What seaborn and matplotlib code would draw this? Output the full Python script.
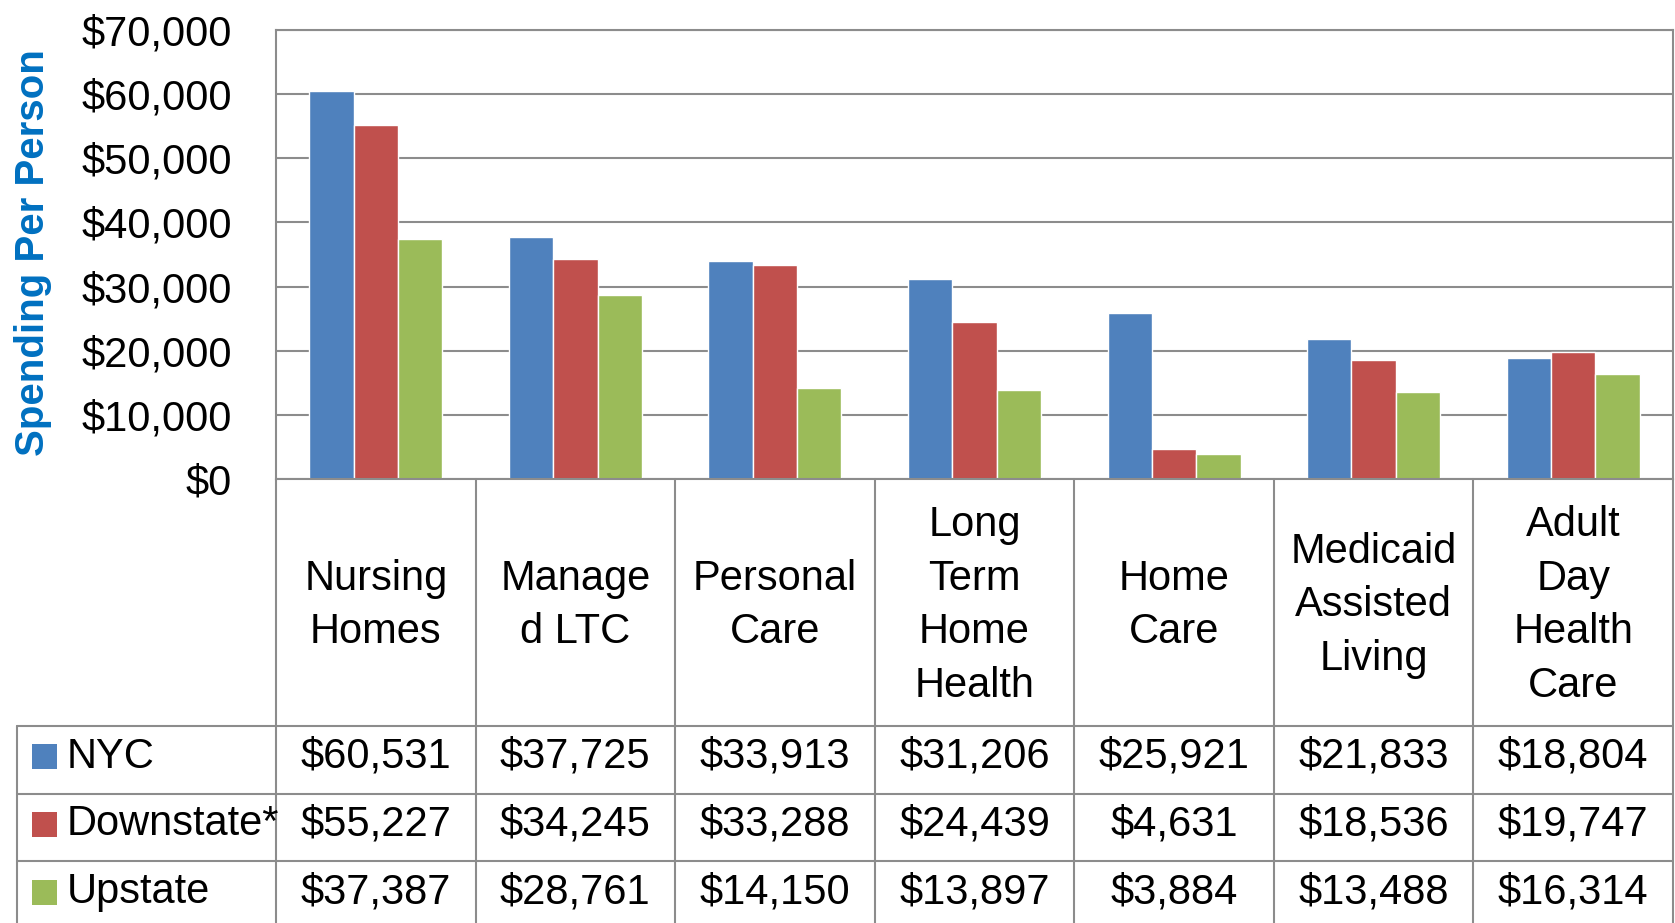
import numpy as np
import pandas as pd
import matplotlib
matplotlib.use("Agg")
import matplotlib.pyplot as plt
import matplotlib.transforms as mtransforms
from matplotlib import font_manager
from matplotlib.patches import Rectangle
import seaborn as sns

# data
services = ["Nursing\nHomes", "Manage\nd LTC", "Personal\nCare", "Long\nTerm\nHome\nHealth",
            "Home\nCare", "Medicaid\nAssisted\nLiving", "Adult\nDay\nHealth\nCare"]
regions = ["NYC", "Downstate*", "Upstate"]
nyc = [60531, 37725, 33913, 31206, 25921, 21833, 18804]
downstate = [55227, 34245, 33288, 24439, 4631, 18536, 19747]
upstate = [37387, 28761, 14150, 13897, 3884, 13488, 16314]
colors = ["#4F81BD", "#C0504D", "#9BBB59"]

df = pd.DataFrame({
    "service": services * 3,
    "region": [r for r in regions for _ in services],
    "spend": nyc + downstate + upstate,
})

sns.set_style("white")

# the reference uses a narrow-looking Arial; use a narrow face if there is one
try:
    font_manager.findfont("Liberation Sans Narrow", fallback_to_default=False)
    fam, fs = "Liberation Sans Narrow", 34
except Exception:
    fam, fs = "Liberation Sans", 30
plt.rcParams["font.family"] = [fam, "DejaVu Sans"]
plt.rcParams["text.color"] = "black"
plt.rcParams["ytick.color"] = "black"

W, H = 1675, 923
fig = plt.figure(figsize=(W / 100, H / 100), dpi=100)
# plot area in pixels: left 276, right 1673, top 30, bottom 479
left, right, top, bottom = 276, 1673, 30, 479
ax = fig.add_axes([left / W, 1 - bottom / H, (right - left) / W, (bottom - top) / H])

sns.barplot(data=df, x="service", y="spend", hue="region", order=services,
            hue_order=regions, palette=colors, width=0.667, saturation=1,
            legend=False, ax=ax, errorbar=None)

grey = "#8C8C8C"
ax.set_xlim(-0.5, len(services) - 0.5)
ax.set_ylim(0, 70000)
ax.set_yticks(np.arange(0, 70001, 10000))
ax.set_yticklabels(["${:,.0f}".format(v) for v in np.arange(0, 70001, 10000)])
ax.yaxis.grid(True, color=grey, linewidth=1.5)
ax.set_axisbelow(True)
ax.tick_params(axis="y", length=0, pad=32, labelsize=fs, labelcolor="black")
ax.tick_params(axis="x", length=0, labelbottom=False)
ax.set_xlabel("")
ax.set_ylabel("")
for s in ax.spines.values():
    s.set_color(grey)
    s.set_linewidth(1.5)

fig.text(33 / W, 1 - 253 / H, "Spending Per Person", rotation=90, ha="center", va="center",
         fontsize=fs - 1, fontweight="bold", color="#0070C0")

# data table under the plot: x in data units, y in axes fraction
trans = mtransforms.blended_transform_factory(ax.transData, ax.transAxes)
ph = bottom - top
def yf(py):
    return (bottom - py) / ph

col_w = (right - left) / len(services)
leg_x = -0.5 - (left - 17) / col_w
row_lines = [726, 794, 861, 930]

line_kw = dict(color=grey, linewidth=1.5, transform=trans, clip_on=False)
for k in range(len(services) + 1):
    ax.plot([k - 0.5, k - 0.5], [yf(bottom), yf(H + 5)], **line_kw)
ax.plot([leg_x, leg_x], [yf(row_lines[0]), yf(H + 5)], **line_kw)
for py in row_lines[:-1]:
    ax.plot([leg_x, len(services) - 0.5], [yf(py), yf(py)], **line_kw)

# header row with category names
for i, name in enumerate(services):
    ax.text(i, yf((bottom + row_lines[0]) / 2 + 3), name, ha="center", va="center",
            fontsize=fs, linespacing=1.44, color="black", transform=trans, clip_on=False)

# value rows with legend keys
series = [nyc, downstate, upstate]
for r, (reg, vals, c) in enumerate(zip(regions, series, colors)):
    yc = yf((row_lines[r] + row_lines[r + 1]) / 2 - 3)
    sq = 25 / col_w
    ax.add_patch(Rectangle((leg_x + 15 / col_w, yc - 12.5 / ph), sq, 25 / ph,
                           facecolor=c, edgecolor="none", transform=trans, clip_on=False))
    ax.text(leg_x + 50 / col_w, yc, reg, ha="left", va="center", fontsize=fs,
            color="black", transform=trans, clip_on=False)
    for i, v in enumerate(vals):
        ax.text(i, yc, "${:,.0f}".format(v), ha="center", va="center", fontsize=fs,
                color="black", transform=trans, clip_on=False)

fig.savefig("out.png", dpi=100)
